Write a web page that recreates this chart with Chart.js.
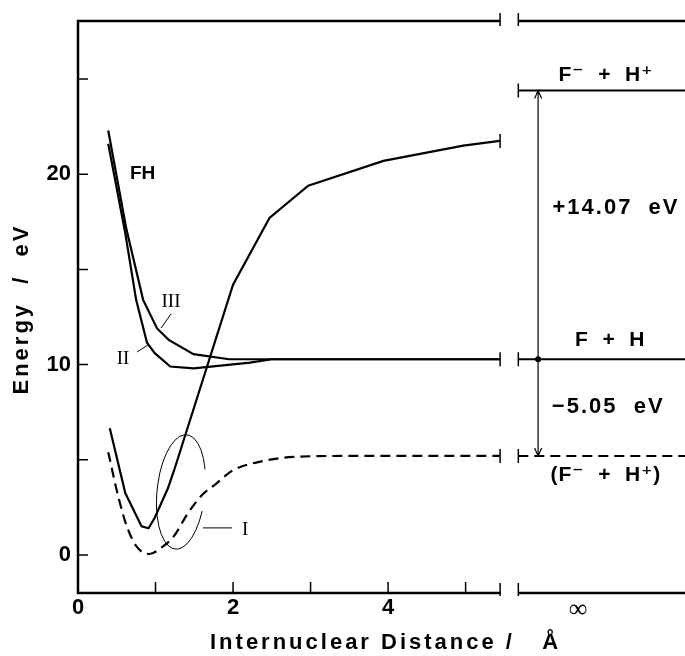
<!DOCTYPE html>
<html>
<head>
<meta charset="utf-8">
<title>FH potential energy curves</title>
<script src="https://cdn.jsdelivr.net/npm/chart.js@4.4.1/dist/chart.umd.min.js"></script>
<style>
  html, body { margin: 0; padding: 0; background: #fff; }
  canvas { display: block; }
</style>
</head>
<body>
<canvas id="fhChart" width="685" height="656"></canvas>
<script>
// ============================================
// DATA (energies in eV, distances in Å)
// ============================================

// ion-pair curve F- + H+ (solid, rises to the right)
const ionicX = [0.41, 0.61, 0.82, 0.91, 0.99, 1.16, 1.24, 2.00, 2.47, 2.97, 3.94, 4.97, 5.44];
const ionicY = [6.65, 3.25, 1.50, 1.40, 1.95, 3.50, 4.45, 14.2, 17.7, 19.4, 20.7, 21.5, 21.75];

// ground state curve I (dashed)
const groundX = [0.39, 0.52, 0.63, 0.76, 0.92, 1.08, 1.23, 1.42, 1.60, 1.77, 2.00, 2.35, 2.78, 3.50, 4.50, 5.44];
const groundY = [5.40, 3.05, 1.50, 0.42, 0.05, 0.40, 0.95, 2.20, 3.15, 3.70, 4.45, 4.90, 5.15, 5.20, 5.20, 5.20];

// excited curves II and III
const stateIIX  = [0.39, 0.61, 0.75, 0.89, 0.99, 1.19, 1.49, 2.22, 2.50, 5.44];
const stateIIY  = [21.6, 16.9, 13.4, 11.15, 10.6, 9.90, 9.80, 10.1, 10.28, 10.28];
const stateIIIX = [0.39, 0.62, 0.84, 1.02, 1.17, 1.49, 1.95, 5.44];
const stateIIIY = [22.3, 17.2, 13.4, 11.9, 11.3, 10.55, 10.28, 10.28];

// dissociation limits drawn at R = infinity
const limitX     = [5.68, 7.83];
const ionLimit   = 24.4;   // F- + H+
const atomLimit  = 10.28;  // F + H
const pairLimit  = 5.20;   // (F- + H+)

// axes
const xTickValues = [0, 2, 4, 6.45];
const xTickLabels = ['0', '2', '4', '∞'];
const xTickMarks  = [1, 2, 3, 4, 5];
const yTickValues = [0, 10, 20];
const yTickLabels = ['0', '10', '20'];
const yTickMarks  = [0, 5, 10, 15, 20, 25];
const breakLeft   = 5.445;
const breakRight  = 5.68;

const xTitle = 'Internuclear Distance /   Å';
const yTitle = 'Energy  /  eV';

// ============================================
// HELPERS
// ============================================

const SANS  = "'Liberation Sans', Arial, Helvetica, 'DejaVu Sans', sans-serif";
const SERIF = "'Liberation Serif', 'Times New Roman', serif";

function series(xs, ys, extra) {
  return Object.assign({
    data: xs.map((x, i) => ({ x, y: ys[i] })),
    showLine: true, borderColor: '#000', borderWidth: 2.2,
    pointRadius: 0, tension: 0, fill: false
  }, extra || {});
}

function label(ctx, str, px, py, font, align, spacing) {
  ctx.font = font;
  ctx.textAlign = align || 'center';
  ctx.textBaseline = 'middle';
  ctx.letterSpacing = spacing || '0px';
  ctx.fillText(str, px, py);
  ctx.letterSpacing = '0px';
}

// ============================================
// FRAME, BREAKS AND ANNOTATIONS
// ============================================

const framePlugin = {
  id: 'frame',
  afterDatasetsDraw(chart) {
    const { ctx, chartArea: a, scales: { x, y } } = chart;
    const X = v => x.getPixelForValue(v);
    const Y = v => y.getPixelForValue(v);
    const bl = X(breakLeft), br = X(breakRight);

    ctx.save();
    ctx.strokeStyle = '#000';
    ctx.fillStyle = '#000';

    // broken frame
    ctx.lineWidth = 2.5;
    ctx.beginPath();
    ctx.moveTo(bl, a.top); ctx.lineTo(a.left, a.top);
    ctx.lineTo(a.left, a.bottom); ctx.lineTo(bl, a.bottom);
    ctx.moveTo(br, a.top); ctx.lineTo(a.right, a.top);
    ctx.moveTo(br, a.bottom); ctx.lineTo(a.right, a.bottom);
    ctx.stroke();

    // tick marks (inward)
    ctx.lineWidth = 1.5;
    ctx.beginPath();
    yTickMarks.forEach(v => { ctx.moveTo(a.left, Y(v)); ctx.lineTo(a.left + 10, Y(v)); });
    xTickMarks.forEach(v => { ctx.moveTo(X(v), a.bottom); ctx.lineTo(X(v), a.bottom - 11); });
    // break end ticks on frame
    [bl, br].forEach(px => {
      ctx.moveTo(px, a.top - 8); ctx.lineTo(px, a.top + 5);
      ctx.moveTo(px, a.bottom - 10); ctx.lineTo(px, a.bottom + 3);
    });
    // end ticks on curves and limits
    [ionicY[ionicY.length - 1], atomLimit, pairLimit].forEach(v => {
      ctx.moveTo(bl, Y(v) - 7); ctx.lineTo(bl, Y(v) + 7);
    });
    [ionLimit, atomLimit, pairLimit].forEach(v => {
      ctx.moveTo(br, Y(v) - 7); ctx.lineTo(br, Y(v) + 7);
    });
    ctx.stroke();

    // energy arrows at infinity
    const ax = X(5.935), top = Y(ionLimit), mid = Y(atomLimit), bot = Y(pairLimit);
    ctx.lineWidth = 1.2;
    ctx.beginPath();
    ctx.moveTo(ax, top); ctx.lineTo(ax, bot);
    ctx.moveTo(ax - 3.5, top + 8); ctx.lineTo(ax, top); ctx.lineTo(ax + 3.5, top + 8);
    ctx.moveTo(ax - 3.5, bot - 8); ctx.lineTo(ax, bot); ctx.lineTo(ax + 3.5, bot - 8);
    ctx.stroke();
    ctx.beginPath();
    ctx.arc(ax, mid, 3, 0, 2 * Math.PI);
    ctx.fill();

    // ellipse around curve I with its leader
    const cx = X(1.329), cy = Y(3.31);
    const rx = X(1.329 + 0.31) - cx, ry = cy - Y(3.31 + 3.02);
    ctx.lineWidth = 1;
    ctx.beginPath();
    ctx.ellipse(cx, cy, rx, ry, 0.1, 0.3, 2 * Math.PI - 0.45);
    ctx.stroke();
    ctx.beginPath();
    ctx.moveTo(X(1.613), Y(1.42)); ctx.lineTo(X(1.987), Y(1.42));
    // leaders for II and III
    ctx.moveTo(X(1.20), Y(12.66)); ctx.lineTo(X(1.071), Y(11.92));
    ctx.moveTo(X(0.761), Y(10.66)); ctx.lineTo(X(0.903), Y(11.03));
    ctx.stroke();

    // roman numerals
    const roman = '19px ' + SERIF;
    label(ctx, 'III', X(1.20), Y(13.29), roman);
    label(ctx, 'II',  X(0.58), Y(10.29), roman);
    label(ctx, 'I',   X(2.155), Y(1.31), roman);

    // species and energy labels
    const bold = 'bold 21px ' + SANS;
    label(ctx, 'FH', X(0.67), Y(20.0), 'bold 19px ' + SANS, 'left');
    label(ctx, 'F⁻  +  H⁺',   X(6.81), Y(25.21), bold, 'center', '1px');
    label(ctx, '+14.07  eV',  X(6.94), Y(18.22), 'bold 22px ' + SANS, 'center', '2px');
    label(ctx, 'F  +  H',     X(6.865), Y(11.29), bold, 'center', '1px');
    label(ctx, '−5.05  eV',   X(6.84), Y(7.77), 'bold 22px ' + SANS, 'center', '2px');
    label(ctx, '(F⁻  +  H⁺)', X(6.81), Y(4.20), bold, 'center', '1px');

    // axis titles
    label(ctx, xTitle, 210, 643, 'bold 22px ' + SANS, 'left', '3px');
    ctx.translate(22, 309);
    ctx.rotate(-Math.PI / 2);
    label(ctx, yTitle, 0, 0, 'bold 22px ' + SANS, 'center', '3px');

    ctx.restore();
  }
};

// ============================================
// CHART
// ============================================

Chart.defaults.font.family = SANS;
Chart.defaults.color = '#000';

new Chart(document.getElementById('fhChart'), {
  type: 'scatter',
  data: {
    datasets: [
      series(ionicX, ionicY),
      series(groundX, groundY, { borderDash: [10, 6], cubicInterpolationMode: 'monotone' }),
      series(stateIIX, stateIIY),
      series(stateIIIX, stateIIIY),
      series(limitX, [ionLimit, ionLimit], { borderWidth: 2 }),
      series(limitX, [atomLimit, atomLimit], { borderWidth: 2 }),
      series(limitX, [pairLimit, pairLimit], { borderWidth: 2, borderDash: [10, 6] })
    ]
  },
  options: {
    responsive: false,
    animation: false,
    layout: { padding: { top: 21, right: 0, bottom: 0, left: 0 } },
    plugins: { legend: { display: false }, tooltip: { enabled: false } },
    scales: {
      x: {
        type: 'linear', min: 0, max: 7.83,
        grid: { display: false, drawTicks: false },
        border: { display: false },
        afterFit: s => { s.height = 63; },
        afterBuildTicks: s => { s.ticks = xTickValues.map(v => ({ value: v })); },
        ticks: {
          autoSkip: false, maxRotation: 0, minRotation: 0, padding: 2, color: '#000',
          callback: (v, i) => xTickLabels[i],
          font: c => (c.index === 3
            ? { family: SERIF, size: 26, weight: 'normal' }
            : { family: SANS, size: 22, weight: 'bold' })
        }
      },
      y: {
        type: 'linear', min: -2, max: 28.05,
        grid: { display: false, drawTicks: false },
        border: { display: false },
        afterFit: s => { s.width = 78; },
        afterBuildTicks: s => { s.ticks = yTickValues.map(v => ({ value: v })); },
        ticks: {
          autoSkip: false, padding: 7, color: '#000',
          callback: (v, i) => yTickLabels[i],
          font: { family: SANS, size: 22, weight: 'bold' }
        }
      }
    }
  },
  plugins: [framePlugin]
});
</script>
</body>
</html>
